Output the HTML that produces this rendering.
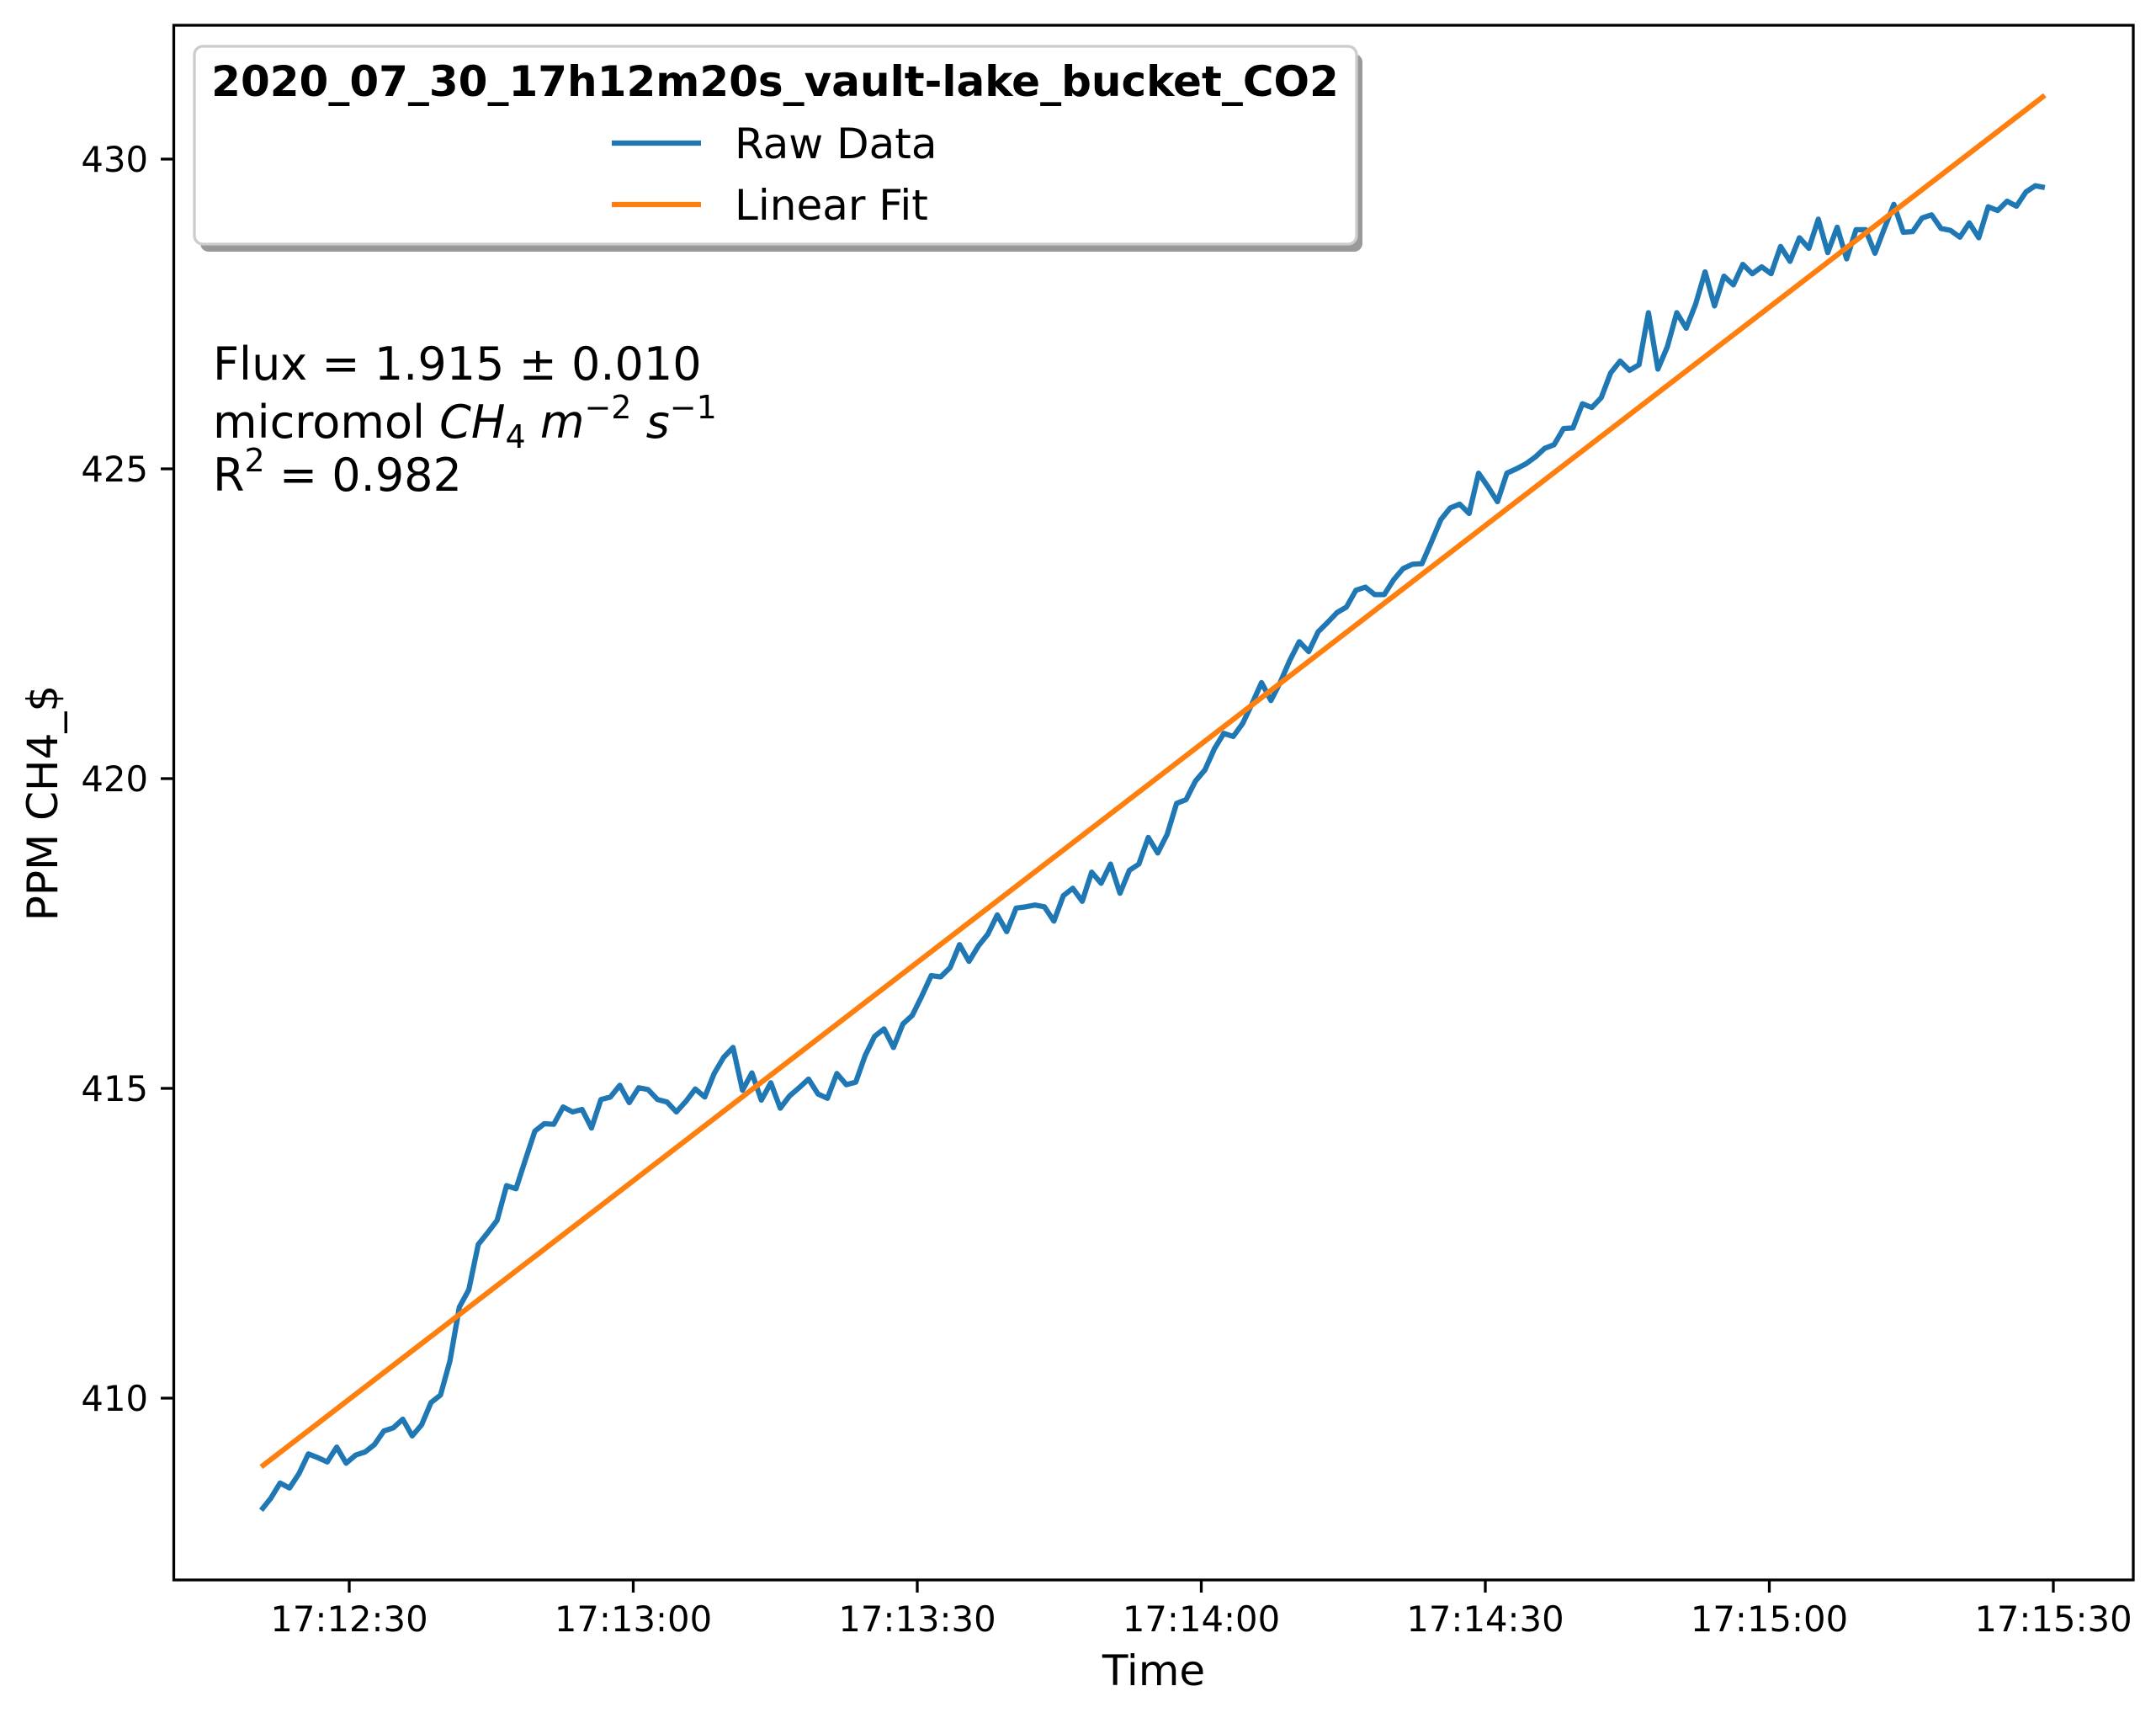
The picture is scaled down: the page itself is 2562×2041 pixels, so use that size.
<!DOCTYPE html>
<html>
<head>
<meta charset="utf-8">
<style>
html,body{margin:0;padding:0;background:#fff;}
svg{display:block;}
text{font-family:"DejaVu Sans","Liberation Sans",sans-serif;fill:#000;}
</style>
</head>
<body>
<svg id="chart" width="2562" height="2041" viewBox="0 0 2562 2041" xmlns="http://www.w3.org/2000/svg">
  <rect x="0" y="0" width="2562" height="2041" fill="#fff"/>
  <g id="plot"></g>
  <rect x="206.5" y="30" width="2328.5" height="1847" fill="none" stroke="#000" stroke-width="3.3"/>
  <g id="xticks"></g>
  <g id="yticks"></g>
  <text x="1371" y="2002" font-size="50" text-anchor="middle">Time</text>
  <text transform="translate(68,954) rotate(-90)" font-size="50" text-anchor="middle">PPM CH4_$</text>

  <g>
    <rect x="238" y="64" width="1381" height="235" rx="10" fill="#999"/>
    <rect x="231" y="55" width="1381" height="235" rx="10" fill="#fff" stroke="#ccc" stroke-width="3.3"/>
    <text x="921" y="114" font-size="50" font-weight="bold" text-anchor="middle">2020_07_30_17h12m20s_vault-lake_bucket_CO2</text>
    <g>
      <line x1="727" y1="170" x2="833" y2="170" stroke="#1f77b4" stroke-width="6.25"/>
      <text x="873" y="188" font-size="50">Raw Data</text>
    </g>
    <g>
      <line x1="727" y1="243" x2="833" y2="243" stroke="#ff7f0e" stroke-width="6.25"/>
      <text x="873" y="261" font-size="50">Linear Fit</text>
    </g>
  </g>

  <g>
    <text x="253" y="451" font-size="54">Flux = 1.915 ± 0.010</text>
    <text x="253" y="520" font-size="54">micromol <tspan font-style="italic">CH</tspan><tspan font-size="38" dy="12">4</tspan><tspan dy="-12" font-style="italic"> m</tspan><tspan font-size="38" dy="-23">−2</tspan><tspan dy="23" font-style="italic"> s</tspan><tspan font-size="38" dy="-23">−1</tspan></text>
    <text x="253" y="583" font-size="54">R<tspan font-size="38" dy="-23">2</tspan><tspan dy="23"> = 0.982</tspan></text>
  </g>
</svg>
<script>
// ---- data (seconds after 17:12:00, PPM) ----
const startSec = 20.7;
const endSec = 209.1;
const rawValues = [
408.19,408.38,408.63,408.55,408.78,409.10,409.04,408.97,409.21,408.95,
409.08,409.13,409.25,409.47,409.52,409.66,409.39,409.57,409.93,410.05,
410.60,411.47,411.75,412.48,412.67,412.87,413.43,413.38,413.85,414.31,
414.43,414.42,414.70,414.62,414.66,414.36,414.82,414.86,415.05,414.77,
415.01,414.98,414.82,414.78,414.62,
414.79,414.99,414.86,415.24,415.50,415.66,414.97,415.25,414.81,415.09,
414.68,414.88,415.01,415.15,414.91,414.84,415.24,415.06,415.10,415.53,
415.84,415.96,415.66,416.04,416.18,416.49,416.82,416.80,416.95,417.32,
417.05,417.30,417.49,417.80,417.53,417.91,417.93,417.96,417.93,417.70,
418.11,418.23,418.02,418.49,418.31,
418.62,418.15,418.52,418.62,419.05,418.80,419.10,419.60,419.66,419.96,
420.14,420.48,420.73,420.68,420.89,421.21,421.55,421.26,421.56,421.91,
422.21,422.05,422.37,422.52,422.68,422.77,423.04,423.09,422.97,422.97,
423.21,423.39,423.46,423.47,423.82,424.18,424.37,424.43,424.28,424.93,
424.71,424.47,424.93,425.00,425.08,
425.19,425.33,425.39,425.65,425.66,426.05,425.99,426.15,426.55,426.74,
426.59,426.68,427.52,426.61,426.97,427.52,427.27,427.66,428.18,427.63,
428.11,427.97,428.30,428.15,428.26,428.15,428.59,428.35,428.73,428.56,
429.03,428.49,428.90,428.39,428.86,428.86,428.48,428.88,429.27,428.82,
428.83,429.05,429.10,428.88,428.85,428.74,428.97,428.73,429.23,429.17,
429.32,429.24,429.47,429.57,429.54
];
const fitTimes = [20.7, 209.1];
const fitValues = [408.89, 431.03];
const xTickSecs = [30, 60, 90, 120, 150, 180, 210];
const xTickLabels = ["17:12:30","17:13:00","17:13:30","17:14:00","17:14:30","17:15:00","17:15:30"];
const yTickValues = [410, 415, 420, 425, 430];
const yTickLabels = ["410","415","420","425","430"];

// ---- axis functions ----
const NS = "http://www.w3.org/2000/svg";
function xScale(s){ return 415 + (s - 30) * 11.25; }
function yScale(v){ return 1661 - (v - 410) * 73.6; }

const plot = document.getElementById('plot');
const xg = document.getElementById('xticks');
const yg = document.getElementById('yticks');

const stepSec = (endSec - startSec) / (rawValues.length - 1);

// raw data line
let d = '';
rawValues.forEach(function(v, i){
  const t = startSec + i * stepSec;
  d += (i ? 'L' : 'M') + xScale(t).toFixed(2) + ' ' + yScale(v).toFixed(2);
});
const raw = document.createElementNS(NS, 'path');
raw.setAttribute('d', d);
raw.setAttribute('fill', 'none');
raw.setAttribute('stroke', '#1f77b4');
raw.setAttribute('stroke-width', '6.25');
raw.setAttribute('stroke-linejoin', 'round');


plot.appendChild(raw);

// linear fit line
let fd = '';
fitValues.forEach(function(v, i){
  fd += (i ? 'L' : 'M') + xScale(fitTimes[i]).toFixed(2) + ' ' + yScale(v).toFixed(2);
});
const fit = document.createElementNS(NS, 'path');
fit.setAttribute('d', fd);
fit.setAttribute('fill', 'none');
fit.setAttribute('stroke', '#ff7f0e');
fit.setAttribute('stroke-width', '6.25');


plot.appendChild(fit);

// x ticks
xTickSecs.forEach(function(s, i){
  const x = xScale(s);
  const tk = document.createElementNS(NS, 'line');
  tk.setAttribute('x1', x); tk.setAttribute('x2', x);
  tk.setAttribute('y1', 1877); tk.setAttribute('y2', 1892);
  tk.setAttribute('stroke', '#000'); tk.setAttribute('stroke-width', '3.3');
  
  
  xg.appendChild(tk);
  const lb = document.createElementNS(NS, 'text');
  lb.setAttribute('x', x); lb.setAttribute('y', 1938);
  lb.setAttribute('font-size', '41.7'); lb.setAttribute('text-anchor', 'middle');
  lb.textContent = xTickLabels[i];
  
  
  xg.appendChild(lb);
});

// y ticks
yTickValues.forEach(function(v, i){
  const y = yScale(v);
  const tk = document.createElementNS(NS, 'line');
  tk.setAttribute('x1', 191); tk.setAttribute('x2', 206.5);
  tk.setAttribute('y1', y); tk.setAttribute('y2', y);
  tk.setAttribute('stroke', '#000'); tk.setAttribute('stroke-width', '3.3');
  
  
  yg.appendChild(tk);
  const lb = document.createElementNS(NS, 'text');
  lb.setAttribute('x', 176); lb.setAttribute('y', y + 15);
  lb.setAttribute('font-size', '41.7'); lb.setAttribute('text-anchor', 'end');
  lb.textContent = yTickLabels[i];
  
  
  yg.appendChild(lb);
});
</script>
</body>
</html>
